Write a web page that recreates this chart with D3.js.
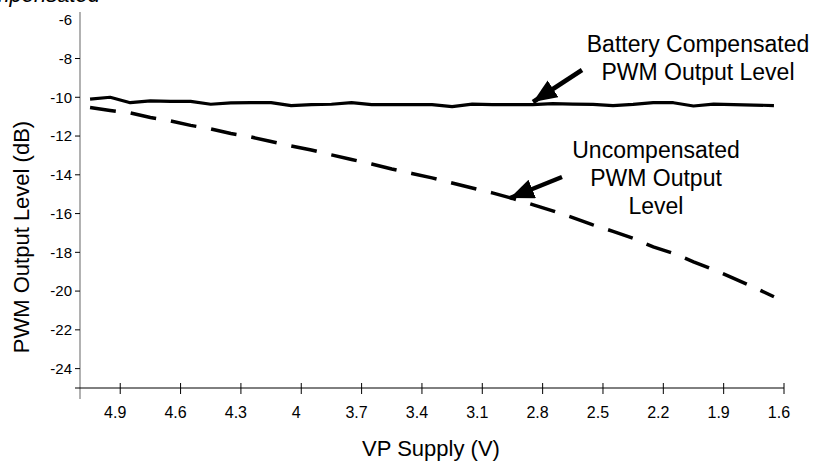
<!DOCTYPE html>
<html>
<head>
<meta charset="utf-8">
<script src="https://cdn.jsdelivr.net/npm/d3@7"></script>
<style>
    body { margin: 0; background: #fff; }
    text { font-family: "Liberation Sans", Arial, sans-serif; fill: #000; }
</style>
</head>
<body>
<script>
            var width = 813, height = 468;

            // supply voltage categories, 5.0 V down to 1.6 V
            const supply = ["5.0","4.9","4.8","4.7","4.6","4.5","4.4","4.3","4.2","4.1","4.0",
                            "3.9","3.8","3.7","3.6","3.5","3.4","3.3","3.2","3.1","3.0",
                            "2.9","2.8","2.7","2.6","2.5","2.4","2.3","2.2","2.1","2.0",
                            "1.9","1.8","1.7","1.6"];

            // battery compensated output level (dB)
            const compensated = [-10.10, -10.00, -10.28, -10.19, -10.21, -10.21, -10.36, -10.29, -10.28, -10.28,
                                 -10.43, -10.38, -10.36, -10.28, -10.38, -10.38, -10.38, -10.38, -10.48, -10.35,
                                 -10.38, -10.38, -10.38, -10.33, -10.35, -10.37, -10.43, -10.37, -10.28, -10.28,
                                 -10.45, -10.35, -10.38, -10.40, -10.43];

            // uncompensated output level (dB)
            const uncompensated = [-10.53, -10.68, -10.81, -11.04, -11.22, -11.45, -11.63, -11.87, -12.05, -12.28,
                                   -12.51, -12.72, -12.97, -13.21, -13.44, -13.70, -13.93, -14.16, -14.42, -14.68,
                                   -14.93, -15.22, -15.54, -15.86, -16.21, -16.58, -16.92, -17.28, -17.72, -18.05,
                                   -18.49, -18.90, -19.34, -19.80, -20.29];

            const xTickLabels = ["4.9","4.6","4.3","4","3.7","3.4","3.1","2.8","2.5","2.2","1.9","1.6"];
            const xTickCats = ["4.9","4.6","4.3","4.0","3.7","3.4","3.1","2.8","2.5","2.2","1.9","1.6"];
            const yTicks = [-24,-22,-20,-18,-16,-14,-12,-10,-8,-6];

            const annotations = [
                { lines: ["Battery Compensated","PWM Output Level"], cx: 698, y: 52, tail: [582, 70], tip: [533, 102] },
                { lines: ["Uncompensated","PWM Output","Level"], cx: 656, y: 158, tail: [562, 177], tip: [510, 198] }
            ];

            var svg = d3.select('body').append('svg')
                .attr('width', width)
                .attr('height', height);

            const x = d3.scaleBand()
                .domain(supply)
                .range([80, 784])
                .padding(0);

            const y = d3.scaleLinear()
                .domain([-25, -5.6])
                .range([388, 12]);

            const bw = x.bandwidth();
            const cx = d => x(d) + bw / 2;

            // ---- axes ----
            // y axis line (grey)
            svg.append('line')
                .attr('x1', 80).attr('x2', 80)
                .attr('y1', y(-5.6)).attr('y2', 399)
                .attr('stroke', '#888').attr('stroke-width', 1.3);

            const gY = svg.append('g');
            gY.selectAll('line')
                .data(yTicks.filter(t => t !== -6))
                .join('line')
                .attr('x1', 75).attr('x2', 80)
                .attr('y1', d => y(d)).attr('y2', d => y(d))
                .attr('stroke', '#000');
            gY.selectAll('text')
                .data(yTicks)
                .join('text')
                .attr('x', 72)
                .attr('y', d => y(d))
                .attr('dy', '0.36em')
                .attr('text-anchor', 'end')
                .attr('font-size', 15)
                .text(d => d);

            // x axis line
            svg.append('line')
                .attr('x1', 75).attr('x2', 784)
                .attr('y1', 388).attr('y2', 388)
                .attr('stroke', '#000');

            const gX = svg.append('g');
            gX.selectAll('line')
                .data(xTickCats)
                .join('line')
                .attr('x1', d => x(d) + bw).attr('x2', d => x(d) + bw)
                .attr('y1', 383).attr('y2', 394)
                .attr('stroke', '#000');
            gX.selectAll('text')
                .data(xTickCats)
                .join('text')
                .attr('x', d => x(d) + bw * 0.75)
                .attr('y', 418)
                .attr('text-anchor', 'middle')
                .attr('font-size', 16)
                .text((d, i) => xTickLabels[i]);

            // ---- axis titles ----
            svg.append('text')
                .attr('transform', 'translate(29,237) rotate(-90)')
                .attr('text-anchor', 'middle')
                .attr('font-size', 22)
                .text('PWM Output Level (dB)');

            svg.append('text')
                .attr('x', 431).attr('y', 456)
                .attr('text-anchor', 'middle')
                .attr('font-size', 22)
                .text('VP Supply (V)');

            // title cut off at the very top, as in the source
            svg.append('text')
                .attr('x', 100).attr('y', 2)
                .attr('text-anchor', 'end')
                .attr('font-size', 22)
                .attr('font-style', 'italic')
                .text('Compensated');

            // ---- series ----
            const line = d3.line()
                .x(d => cx(d[0]))
                .y(d => y(d[1]));

            svg.append('path')
                .datum(supply.map((s, i) => [s, uncompensated[i]]))
                .attr('d', line)
                .attr('fill', 'none')
                .attr('stroke', '#000')
                .attr('stroke-width', 3.5)
                .attr('stroke-dasharray', '26,15');

            svg.append('path')
                .datum(supply.map((s, i) => [s, compensated[i]]))
                .attr('d', line)
                .attr('fill', 'none')
                .attr('stroke', '#000')
                .attr('stroke-width', 3.2)
                .attr('stroke-linejoin', 'round');

            // ---- annotations ----
            const defs = svg.append('defs');
            defs.append('marker')
                .attr('id', 'arrow')
                .attr('markerUnits', 'userSpaceOnUse')
                .attr('markerWidth', 26)
                .attr('markerHeight', 22)
                .attr('refX', 24)
                .attr('refY', 10)
                .attr('orient', 'auto')
                .append('polygon')
                .attr('points', '0 0, 24 10, 0 20')
                .attr('fill', '#000');

            annotations.forEach(a => {
                const t = svg.append('text')
                    .attr('text-anchor', 'middle')
                    .attr('font-size', 23);
                a.lines.forEach((l, i) => {
                    t.append('tspan')
                        .attr('x', a.cx)
                        .attr('y', a.y + i * 28)
                        .text(l);
                });
                svg.append('line')
                    .attr('x1', a.tail[0]).attr('y1', a.tail[1])
                    .attr('x2', a.tip[0]).attr('y2', a.tip[1])
                    .attr('stroke', '#000')
                    .attr('stroke-width', 4.5)
                    .attr('marker-end', 'url(#arrow)');
            });
</script>
</body>
</html>
